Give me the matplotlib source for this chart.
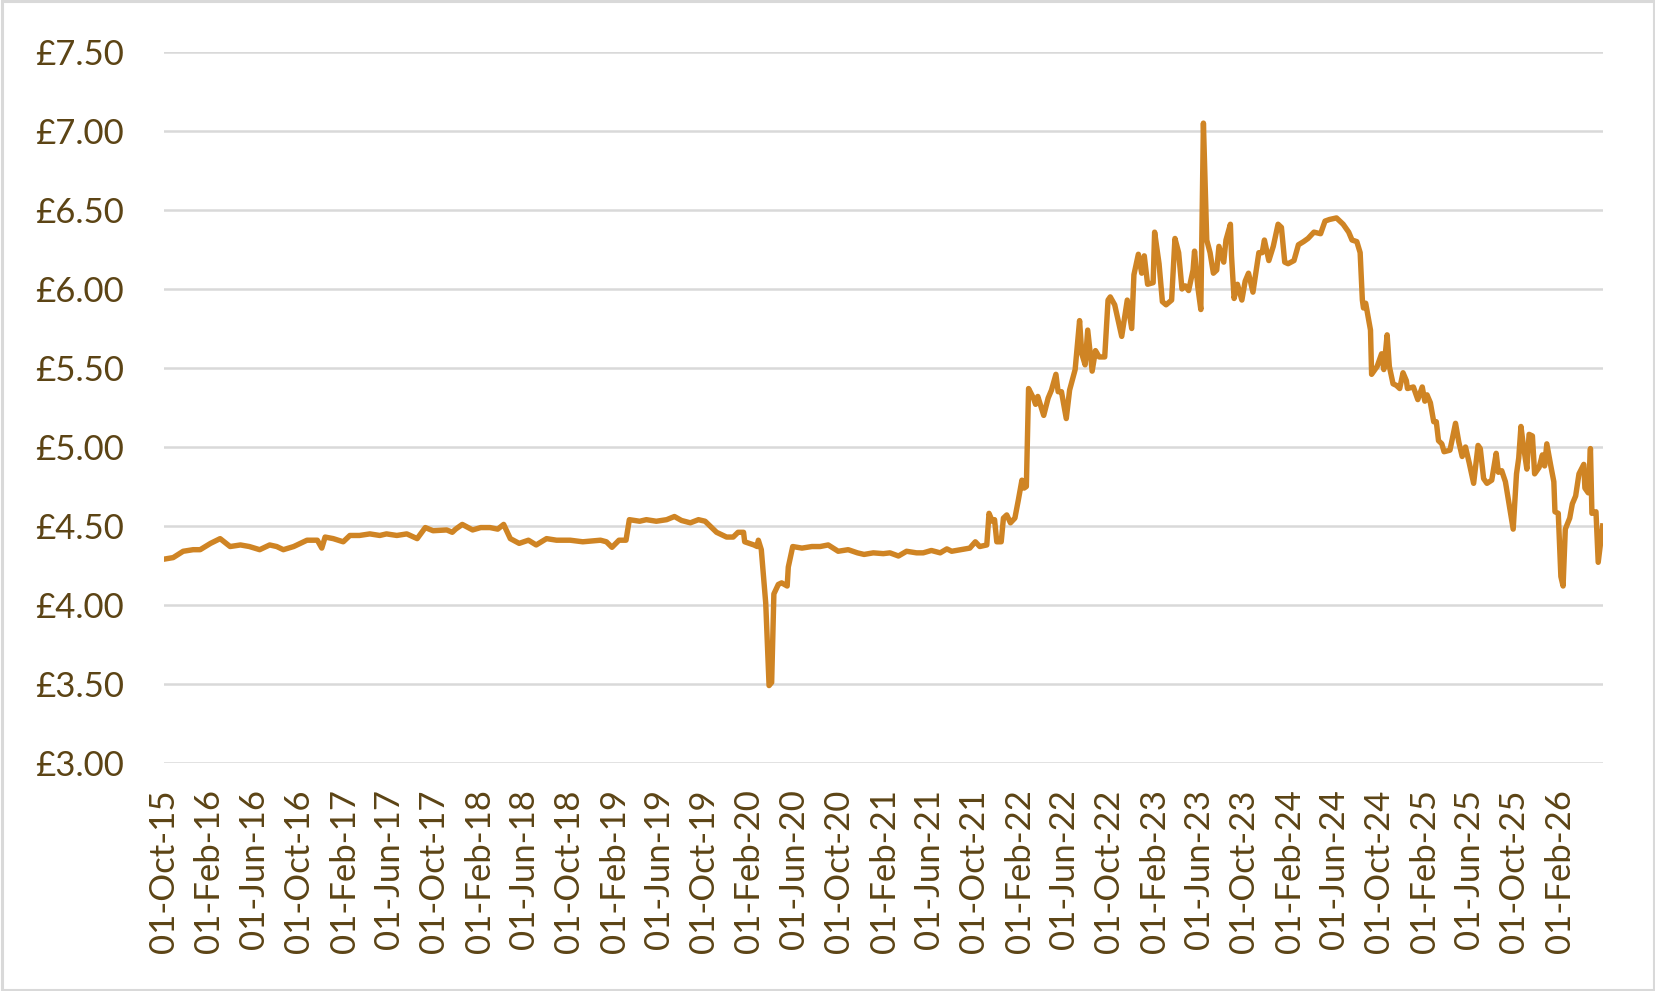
import matplotlib
matplotlib.use("Agg")
import matplotlib.pyplot as plt
import matplotlib.dates as mdates
from matplotlib.patches import Rectangle
from matplotlib.ticker import FuncFormatter
import pandas as pd

# weekly price
dates = [
    "2015-10-01", "2015-10-26", "2015-11-22", "2015-12-19", "2016-01-07", "2016-02-04",
    "2016-03-01", "2016-03-28", "2016-04-25", "2016-05-19", "2016-06-16", "2016-07-13",
    "2016-08-01", "2016-08-19", "2016-09-16", "2016-10-22", "2016-11-19", "2016-12-01",
    "2016-12-10", "2017-01-01", "2017-01-28", "2017-02-15", "2017-03-13", "2017-04-10",
    "2017-05-07", "2017-05-25", "2017-06-22", "2017-07-19", "2017-08-16", "2017-09-07",
    "2017-09-28", "2017-11-04", "2017-11-19", "2017-11-28", "2017-12-16", "2018-01-13",
    "2018-02-04", "2018-03-01", "2018-03-22", "2018-04-07", "2018-04-25", "2018-05-19",
    "2018-06-13", "2018-07-04", "2018-08-01", "2018-08-28", "2018-10-04", "2018-11-07",
    "2018-12-25", "2019-01-10", "2019-01-25", "2019-02-13", "2019-03-04", "2019-03-13",
    "2019-04-10", "2019-04-28", "2019-05-25", "2019-06-22", "2019-07-13", "2019-08-01",
    "2019-08-25", "2019-09-16", "2019-10-04", "2019-11-04", "2019-12-01", "2019-12-19",
    "2020-01-01", "2020-01-16", "2020-01-19", "2020-02-13", "2020-02-22", "2020-02-25",
    "2020-03-04", "2020-03-16", "2020-03-25", "2020-04-01", "2020-04-07", "2020-04-19",
    "2020-04-28", "2020-05-13", "2020-05-16", "2020-05-28", "2020-06-22", "2020-07-19",
    "2020-08-10", "2020-09-01", "2020-09-28", "2020-10-25", "2020-11-19", "2020-12-07",
    "2021-01-01", "2021-01-28", "2021-02-15", "2021-03-10", "2021-04-01", "2021-04-28",
    "2021-05-16", "2021-06-07", "2021-07-01", "2021-07-19", "2021-08-01", "2021-08-25",
    "2021-09-19", "2021-10-04", "2021-10-16", "2021-11-04", "2021-11-10", "2021-11-19",
    "2021-11-25", "2021-12-01", "2021-12-13", "2021-12-19", "2021-12-28", "2022-01-07",
    "2022-01-19", "2022-01-28", "2022-02-07", "2022-02-13", "2022-02-19", "2022-02-25",
    "2022-03-10", "2022-03-16", "2022-03-22", "2022-04-07", "2022-04-19", "2022-04-28",
    "2022-05-10", "2022-05-16", "2022-05-25", "2022-06-07", "2022-06-16", "2022-07-01",
    "2022-07-13", "2022-07-19", "2022-07-28", "2022-08-04", "2022-08-16", "2022-08-25",
    "2022-09-04", "2022-09-19", "2022-09-28", "2022-10-04", "2022-10-16", "2022-11-04",
    "2022-11-19", "2022-12-01", "2022-12-07", "2022-12-19", "2022-12-28", "2023-01-04",
    "2023-01-13", "2023-01-28", "2023-02-01", "2023-02-13", "2023-02-22", "2023-03-04",
    "2023-03-19", "2023-03-28", "2023-04-07", "2023-04-16", "2023-04-25", "2023-05-04",
    "2023-05-16", "2023-05-20", "2023-05-29", "2023-06-06", "2023-06-13", "2023-06-22",
    "2023-07-01", "2023-07-10", "2023-07-19", "2023-07-25", "2023-08-07", "2023-08-13",
    "2023-08-25", "2023-08-28", "2023-09-04", "2023-09-13", "2023-09-25", "2023-10-04",
    "2023-10-13", "2023-10-25", "2023-11-10", "2023-11-19", "2023-11-25", "2023-12-07",
    "2023-12-19", "2024-01-01", "2024-01-10", "2024-01-19", "2024-01-28", "2024-02-13",
    "2024-02-25", "2024-03-10", "2024-03-22", "2024-04-07", "2024-04-25", "2024-05-07",
    "2024-05-19", "2024-06-07", "2024-06-25", "2024-07-10", "2024-07-19", "2024-08-01",
    "2024-08-10", "2024-08-16", "2024-08-19", "2024-08-25", "2024-09-07", "2024-09-10",
    "2024-09-25", "2024-10-07", "2024-10-13", "2024-10-22", "2024-10-28", "2024-11-07",
    "2024-11-16", "2024-11-25", "2024-12-04", "2024-12-13", "2024-12-16", "2025-01-01",
    "2025-01-13", "2025-01-25", "2025-02-01", "2025-02-07", "2025-02-16", "2025-02-25",
    "2025-03-04", "2025-03-10", "2025-03-19", "2025-03-25", "2025-04-10", "2025-04-25",
    "2025-05-04", "2025-05-13", "2025-05-22", "2025-06-01", "2025-06-13", "2025-06-25",
    "2025-07-01", "2025-07-10", "2025-07-19", "2025-08-01", "2025-08-13", "2025-08-19",
    "2025-08-28", "2025-09-07", "2025-09-28", "2025-10-07", "2025-10-13", "2025-10-19",
    "2025-10-25", "2025-11-04", "2025-11-10", "2025-11-19", "2025-11-25", "2025-12-07",
    "2025-12-16", "2025-12-22", "2025-12-28", "2026-01-07", "2026-01-16", "2026-01-19",
    "2026-01-28", "2026-02-04", "2026-02-10", "2026-02-16", "2026-02-28", "2026-03-07",
    "2026-03-16", "2026-03-25", "2026-04-07", "2026-04-10", "2026-04-19", "2026-04-25",
    "2026-04-29", "2026-05-10", "2026-05-16", "2026-05-28",
]
prices = [
    4.29, 4.30, 4.34, 4.35, 4.35, 4.39,
    4.42, 4.37, 4.38, 4.37, 4.35, 4.38,
    4.37, 4.35, 4.37, 4.41, 4.41, 4.36,
    4.43, 4.42, 4.40, 4.44, 4.44, 4.45,
    4.44, 4.45, 4.44, 4.45, 4.42, 4.49,
    4.47, 4.475, 4.46, 4.48, 4.51, 4.475,
    4.49, 4.49, 4.48, 4.51, 4.42, 4.39,
    4.41, 4.38, 4.42, 4.41, 4.41, 4.40,
    4.41, 4.40, 4.365, 4.41, 4.41, 4.54,
    4.53, 4.54, 4.53, 4.54, 4.56, 4.535,
    4.52, 4.54, 4.53, 4.46, 4.43, 4.43,
    4.46, 4.46, 4.40, 4.38, 4.37, 4.41,
    4.35, 4.01, 3.49, 3.51, 4.07, 4.13,
    4.14, 4.12, 4.24, 4.37, 4.36, 4.37,
    4.37, 4.38, 4.34, 4.35, 4.33, 4.32,
    4.33, 4.325, 4.33, 4.31, 4.34, 4.33,
    4.33, 4.345, 4.33, 4.355, 4.34, 4.35,
    4.36, 4.40, 4.37, 4.38, 4.58, 4.53,
    4.54, 4.40, 4.40, 4.55, 4.57, 4.52,
    4.55, 4.66, 4.79, 4.74, 4.75, 5.37,
    5.31, 5.27, 5.32, 5.20, 5.31, 5.36,
    5.46, 5.35, 5.35, 5.18, 5.36, 5.49,
    5.80, 5.59, 5.52, 5.74, 5.48, 5.61,
    5.57, 5.57, 5.93, 5.95, 5.90, 5.70,
    5.93, 5.75, 6.09, 6.22, 6.10, 6.21,
    6.03, 6.04, 6.36, 6.16, 5.92, 5.90,
    5.93, 6.32, 6.23, 6.00, 6.02, 5.99,
    6.12, 6.24, 6.01, 5.87, 7.05, 6.31,
    6.23, 6.10, 6.12, 6.27, 6.17, 6.31,
    6.41, 6.21, 5.94, 6.03, 5.93, 6.05,
    6.10, 5.98, 6.23, 6.23, 6.31, 6.18,
    6.27, 6.41, 6.39, 6.17, 6.16, 6.18,
    6.28, 6.30, 6.32, 6.36, 6.35, 6.43,
    6.44, 6.45, 6.41, 6.36, 6.31, 6.30,
    6.23, 5.93, 5.88, 5.91, 5.74, 5.46,
    5.51, 5.59, 5.49, 5.71, 5.51, 5.40,
    5.39, 5.37, 5.47, 5.42, 5.37, 5.38,
    5.30, 5.38, 5.29, 5.33, 5.28, 5.16,
    5.16, 5.04, 5.02, 4.97, 4.98, 5.15,
    5.03, 4.94, 5.00, 4.90, 4.77, 5.01,
    4.99, 4.80, 4.77, 4.79, 4.96, 4.84,
    4.85, 4.78, 4.48, 4.83, 4.93, 5.13,
    5.02, 4.86, 5.08, 5.07, 4.83, 4.87,
    4.95, 4.88, 5.02, 4.89, 4.78, 4.59,
    4.58, 4.18, 4.12, 4.48, 4.55, 4.64,
    4.69, 4.83, 4.89, 4.74, 4.71, 4.99,
    4.58, 4.59, 4.27, 4.50,
]

y_ticks = [3.0, 3.5, 4.0, 4.5, 5.0, 5.5, 6.0, 6.5, 7.0, 7.5]
x_ticks = pd.date_range("2015-10-01", "2026-02-01", freq="4MS")

line_color = "#CF8424"
text_color = "#5C4415"
grid_color = "#D9D9D9"

plt.rcParams["font.family"] = ["Lato", "DejaVu Sans"]

fig = plt.figure(figsize=(16.56, 9.91), dpi=100)
ax = fig.add_axes([0.099, 0.2301, 0.869, 0.7174])

x = pd.to_datetime(dates)
ax.plot(x, prices, color=line_color, linewidth=3.9, solid_joinstyle="round", zorder=3)

ax.set_ylim(3.0, 7.5)
ax.set_yticks(y_ticks)
ax.yaxis.set_major_formatter(FuncFormatter(lambda v, p: f"£{v:.2f}"))
ax.grid(axis="y", color=grid_color, linewidth=1.8)
ax.set_axisbelow(True)

ax.set_xlim(pd.Timestamp("2015-10-01"), pd.Timestamp("2026-05-29"))
ax.set_xticks(x_ticks)
ax.xaxis.set_major_formatter(mdates.DateFormatter("%d-%b-%y"))

for s in ax.spines.values():
    s.set_visible(False)
ax.tick_params(axis="both", length=0, labelsize=25, labelcolor=text_color)
ax.tick_params(axis="y", pad=29)
ax.tick_params(axis="x", pad=19)
for lbl in ax.get_xticklabels():
    lbl.set_rotation(90)
    lbl.set_va("top")
    lbl.set_ha("center")

# light border round the whole chart
fig.patches.append(Rectangle((0.001, 0.0015), 0.998, 0.997, transform=fig.transFigure,
                             fill=False, edgecolor=grid_color, linewidth=2.2))

fig.savefig("out.png", dpi=100)
